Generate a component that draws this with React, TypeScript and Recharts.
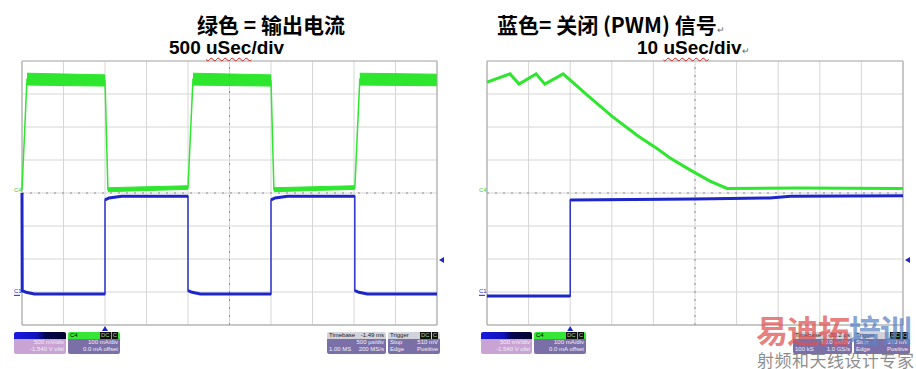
import React from 'react';
import { ComposedChart, Line, Area, XAxis, YAxis, CartesianGrid, ReferenceLine, ReferenceDot } from 'recharts';

// scope screens: x in divisions 0..10, y in divisions -4..4
const divX = [0, 1, 2, 3, 4, 5, 6, 7, 8, 9, 10];
const divY = [-4, -3, -2, -1, 0, 1, 2, 3, 4];

// left screen, 500 uSec/div
const leftGreen = [
  { x: 0, y: 0.09 }, { x: 0.12, y: 3.45 }, { x: 2.0, y: 3.41 }, { x: 2.07, y: 0.1 },
  { x: 4.0, y: 0.16 }, { x: 4.12, y: 3.45 }, { x: 6.0, y: 3.41 }, { x: 6.07, y: 0.1 },
  { x: 8.02, y: 0.16 }, { x: 8.14, y: 3.45 }, { x: 10, y: 3.42 },
];
const leftGreenBand = [
  { x: 0.12, band: [3.27, 3.63] }, { x: 2.0, band: [3.24, 3.58] }, { x: 2.03, band: null },
  { x: 2.07, band: [0.04, 0.16] }, { x: 4.0, band: [0.11, 0.22] }, { x: 4.06, band: null },
  { x: 4.12, band: [3.27, 3.63] }, { x: 6.0, band: [3.24, 3.58] }, { x: 6.03, band: null },
  { x: 6.07, band: [0.04, 0.16] }, { x: 8.02, band: [0.11, 0.22] }, { x: 8.08, band: null },
  { x: 8.14, band: [3.27, 3.63] }, { x: 10, band: [3.25, 3.6] },
];
const leftBlue = [
  { x: 0, y: 0 }, { x: 0.005, y: -2.96 }, { x: 0.1, y: -3.01 }, { x: 0.3, y: -3.06 }, { x: 2.0, y: -3.06 },
  { x: 2.0, y: -0.21 }, { x: 2.1, y: -0.15 }, { x: 2.4, y: -0.1 }, { x: 4.0, y: -0.1 },
  { x: 4.0, y: -2.96 }, { x: 4.1, y: -3.01 }, { x: 4.3, y: -3.06 }, { x: 6.0, y: -3.06 },
  { x: 6.0, y: -0.21 }, { x: 6.1, y: -0.15 }, { x: 6.4, y: -0.1 }, { x: 8.02, y: -0.1 },
  { x: 8.02, y: -2.96 }, { x: 8.12, y: -3.01 }, { x: 8.32, y: -3.06 }, { x: 10, y: -3.06 },
];

// right screen, 10 uSec/div
const rightGreen = [
  { x: 0, y: 3.36 }, { x: 0.55, y: 3.61 }, { x: 0.77, y: 3.3 }, { x: 1.18, y: 3.61 },
  { x: 1.39, y: 3.3 }, { x: 1.83, y: 3.61 }, { x: 2.43, y: 2.94 }, { x: 3.03, y: 2.3 },
  { x: 3.63, y: 1.73 }, { x: 4.04, y: 1.39 }, { x: 4.4, y: 1.06 }, { x: 4.88, y: 0.7 },
  { x: 5.36, y: 0.36 }, { x: 5.77, y: 0.14 }, { x: 7.5, y: 0.15 }, { x: 10, y: 0.14 },
];
const rightBlue = [
  { x: 0, y: -3.12 }, { x: 2.0, y: -3.12 }, { x: 2.0, y: -0.21 }, { x: 5.0, y: -0.18 },
  { x: 6.8, y: -0.15 }, { x: 7.3, y: -0.1 }, { x: 10, y: -0.08 },
];

const GREEN = '#2ee62e';
const BLUE = '#1e26c8';

// break the trace at vertical edges so only the flat parts get the thick noisy stroke
const flatParts = (pts: { x: number; y: number }[]) => {
  const out: { x: number; y: number | null }[] = [];
  pts.forEach((p, i) => {
    if (i > 0 && pts[i - 1].x === p.x) out.push({ x: p.x, y: null });
    out.push(p);
  });
  return out;
};

const tri = (dir: 'up' | 'left') => (p: any) => {
  const { cx, cy } = p;
  const d = dir === 'up'
    ? `M${cx - 3},${cy + 6} L${cx + 3},${cy + 6} L${cx},${cy + 1} Z`
    : `M${cx + 2},${cy} L${cx + 7},${cy - 3} L${cx + 7},${cy + 3} Z`;
  return <path d={d} fill={BLUE} />;
};

const chLabel = (text: string, color: string, underline: boolean) => (p: any) => {
  const { cx, cy } = p;
  return (
    <g>
      <text x={cx - 8} y={cy + 2} fontSize={6} fill={color} fontFamily="Liberation Sans">{text}</text>
      {underline && <line x1={cx - 8} x2={cx - 2} y1={cy + 4} y2={cy + 4} stroke={color} strokeWidth={1} />}
    </g>
  );
};

function Scope({ width, margin, green, greenBand, blue, greenWidth, trigX }: any) {
  return (
    <ComposedChart width={width} height={369} margin={margin}>
      <CartesianGrid stroke="#d6d6d6" strokeWidth={1} />
      <XAxis type="number" dataKey="x" domain={[0, 10]} ticks={divX} interval={0} hide />
      <YAxis type="number" domain={[-4, 4]} ticks={divY} interval={0} hide />
      <ReferenceLine x={5} stroke="#8c8c8c" strokeDasharray="2 6" />
      <ReferenceLine y={0} stroke="#8c8c8c" strokeDasharray="2 6" />
      <ReferenceLine x={0} stroke="#a4a4a4" />
      <ReferenceLine x={10} stroke="#a4a4a4" />
      <ReferenceLine y={4} stroke="#b4b4b4" />
      <ReferenceLine y={-4} stroke="#a4a4a4" />
      {greenBand && (
        <Area data={greenBand} dataKey="band" type="linear" fill={GREEN} fillOpacity={1} stroke={GREEN} strokeWidth={1} isAnimationActive={false} />
      )}
      <Line data={green} dataKey="y" type="linear" stroke={GREEN} strokeWidth={greenWidth} dot={false} isAnimationActive={false} />
      <Line data={blue} dataKey="y" type="linear" stroke={BLUE} strokeWidth={1.4} dot={false} isAnimationActive={false} />
      <Line data={flatParts(blue)} dataKey="y" type="linear" stroke={BLUE} strokeWidth={3} dot={false} isAnimationActive={false} />
      <ReferenceDot x={trigX} y={-4} r={0} ifOverflow="visible" shape={tri('up')} />
      <ReferenceDot x={10} y={-2.03} r={0} ifOverflow="visible" shape={tri('left')} />
      <ReferenceDot x={0} y={0.1} r={0} ifOverflow="visible" shape={chLabel('C4', '#3ccc3c', false)} />
      <ReferenceDot x={0} y={-2.98} r={0} ifOverflow="visible" shape={chLabel('C1', BLUE, true)} />
    </ComposedChart>
  );
}

function InfoBox({ left, width, head, headBg, headColor, tags, rows, bodyBg }: any) {
  return (
    <div style={{ position: 'absolute', left, top: 332, width, height: 22, borderRadius: 2, overflow: 'hidden', fontFamily: 'Liberation Sans', fontSize: 6, lineHeight: '7px' }}>
      <div style={{ height: 7, background: headBg, color: headColor, display: 'flex', justifyContent: 'space-between', padding: '0 2px' }}>
        <span>{head[0]}</span>
        <span style={{ display: 'flex', gap: 1 }}>
          {head[1] && <span>{head[1]}</span>}
          {tags && tags.map((t: string) => (
            <span key={t} style={{ background: '#101010', color: '#9ad09a', padding: '0 1px' }}>{t}</span>
          ))}
        </span>
      </div>
      <div style={{ height: 15, background: bodyBg, color: '#f4f0f8', padding: '0 2px' }}>
        {rows.map((r: string[], i: number) => (
          <div key={i} style={{ display: 'flex', justifyContent: 'space-between' }}>
            <span>{r[0]}</span><span>{r[1]}</span>
          </div>
        ))}
      </div>
    </div>
  );
}

const chBlueHead = 'linear-gradient(90deg, #1a1ae0 0%, #1010b8 45%, #05054e 60%, #03032e 100%)';
const chBody = '#c9a3d4';
const boxBody = '#7b6fa8';

const titleCjk = { position: 'absolute' as const, fontFamily: '"Noto Sans CJK SC"', fontWeight: 700, fontSize: 21, color: '#000', top: 9, whiteSpace: 'nowrap' as const };
const titleDiv = { position: 'absolute' as const, fontFamily: '"Liberation Sans"', fontWeight: 700, fontSize: 19, color: '#000', top: 37, whiteSpace: 'nowrap' as const };
const wavy = { textDecoration: 'underline wavy #d02020', textDecorationThickness: 1, textUnderlineOffset: 3 };
const pilcrow = { fontSize: 9, color: '#666', fontWeight: 400 };

export default function App() {
  return (
    <div style={{ position: 'absolute', left: 0, top: 0, width: 916, height: 369, background: '#fff', overflow: 'hidden' }}>
      <div style={{ position: 'absolute', left: 0, top: 0 }}>
        <Scope width={460} margin={{ top: 61, right: 23, bottom: 44, left: 22 }} green={leftGreen} greenBand={leftGreenBand} blue={leftBlue} greenWidth={1.5} trigX={2.0} />
      </div>
      <div style={{ position: 'absolute', left: 460, top: 0 }}>
        <Scope width={456} margin={{ top: 61, right: 13, bottom: 44, left: 27 }} green={rightGreen} greenBand={null} blue={rightBlue} greenWidth={3} trigX={2.0} />
      </div>

      <div style={{ ...titleCjk, left: 197 }}>绿色 = 输出电流</div>
      <div style={{ ...titleDiv, left: 169 }}>500 <span style={wavy}>uSec</span>/div</div>
      <div style={{ ...titleCjk, left: 497 }}>蓝色= 关闭 (PWM) 信号<span style={pilcrow}>↵</span></div>
      <div style={{ ...titleDiv, left: 637 }}>10 <span style={wavy}>uSec</span>/div<span style={pilcrow}>↵</span></div>

      <InfoBox left={14} width={52} head={['', '']} headBg={chBlueHead} headColor="#fff" rows={[['', '500 mV/div'], ['', '-1.540 V ofst']]} bodyBg={chBody} />
      <InfoBox left={68} width={52} head={['C4', '']} headBg="#36e636" headColor="#000" tags={['DC', 'C']} rows={[['', '100 mA/div'], ['', '0.0 mA offset']]} bodyBg={boxBody} />
      <InfoBox left={327} width={59} head={['Timebase', '-1.49 ms']} headBg="#d2d2da" headColor="#222" rows={[['', '500 µs/div'], ['1.00 MS', '200 MS/s']]} bodyBg={boxBody} />
      <InfoBox left={388} width={52} head={['Trigger', '']} headBg="#d2d2da" headColor="#222" tags={['DC', 'C']} rows={[['Stop', '510 mV'], ['Edge', 'Positive']]} bodyBg={boxBody} />

      <InfoBox left={481} width={51} head={['', '']} headBg={chBlueHead} headColor="#fff" rows={[['', '500 mV/div'], ['', '-1.540 V ofst']]} bodyBg={chBody} />
      <InfoBox left={534} width={52} head={['C4', '']} headBg="#36e636" headColor="#000" tags={['DC', 'C']} rows={[['', '100 mA/div'], ['', '0.0 mA offset']]} bodyBg={boxBody} />
      <InfoBox left={793} width={59} head={['Timebase', '30.2 µs']} headBg="#d2d2da" headColor="#222" rows={[['', '10.0 µs/div'], ['100 kS', '1.0 GS/s']]} bodyBg={boxBody} />
      <InfoBox left={854} width={56} head={['Trigger', '']} headBg="#d2d2da" headColor="#222" tags={['DC', 'C']} rows={[['Stop', '510 mV'], ['Edge', 'Positive']]} bodyBg={boxBody} />

      <div style={{ position: 'absolute', left: 756, top: 306, fontFamily: '"Noto Sans CJK SC"', fontWeight: 700, fontSize: 32, letterSpacing: -1, whiteSpace: 'nowrap' }}>
        <span style={{ color: 'rgba(222, 80, 80, 0.72)' }}>易迪拓</span>
        <span style={{ color: 'rgba(90, 130, 195, 0.72)' }}>培训</span>
      </div>
      <div style={{ position: 'absolute', left: 757, top: 347, fontFamily: '"Noto Sans CJK SC"', fontSize: 17, letterSpacing: 0.5, color: 'rgba(120, 120, 120, 0.85)', whiteSpace: 'nowrap' }}>射频和天线设计专家</div>
    </div>
  );
}
